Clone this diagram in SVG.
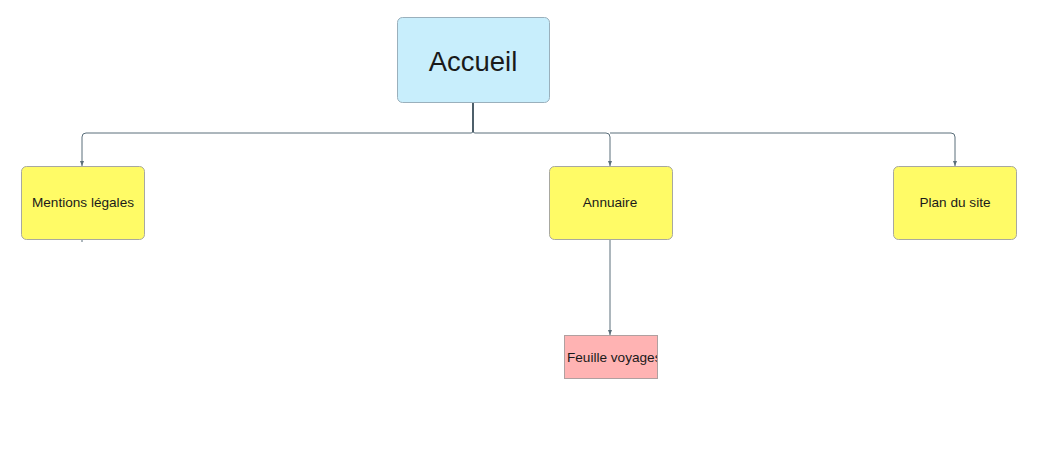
<svg xmlns="http://www.w3.org/2000/svg" width="1041" height="462" viewBox="0 0 1041 462">
<style>
.lbl{font-family:"Liberation Sans",Arial,sans-serif;fill:#1a1a1a;text-anchor:middle;dominant-baseline:central}
.y{fill:#fffb66;stroke:#a8a8a0;stroke-width:1}
.c{fill:none;stroke:#5a6e7a;stroke-width:1}
</style>
<defs>
<marker id="ah" markerWidth="5" markerHeight="5" refX="5" refY="2.5" orient="auto" markerUnits="userSpaceOnUse" viewBox="0 0 5 5">
<path d="M0,0.5 L5,2.5 L0,4.5 Z" fill="#5a6e7a"/>
</marker>
<clipPath id="fclip"><rect x="564" y="335" width="93" height="44"/></clipPath>
</defs>
<rect width="1041" height="462" fill="#ffffff"/>
<g id="connectors">
<path class="c" d="M473,102 V131 Q473,133 471,133 H86 Q82,133 82,137 V166" marker-end="url(#ah)"/>
<path class="c" d="M473,102 V131 Q473,133 475,133 H606 Q610,133 610,137 V166" marker-end="url(#ah)"/>
<path class="c" d="M610,133 H951 Q955,133 955,137 V166" marker-end="url(#ah)"/>
<path d="M473,102 V132" fill="none" stroke="#4d5f6a" stroke-width="2"/>
<path class="c" d="M610,239 V335" marker-end="url(#ah)"/>
<path class="c" d="M82,239 V242"/>
</g>
<g id="accueil">
<rect x="397.5" y="17.5" width="152" height="85" rx="5" fill="#c8eefc" stroke="#9ab0bc"/>
<text class="lbl" x="473" y="61" font-size="27.5">Accueil</text>
</g>
<g id="mentions">
<rect class="y" x="21.5" y="166.5" width="123" height="73" rx="5"/>
<text class="lbl" x="83" y="202" font-size="13.6">Mentions légales</text>
</g>
<g id="annuaire">
<rect class="y" x="549.5" y="166.5" width="123" height="73" rx="5"/>
<text class="lbl" x="610" y="202" font-size="13.6">Annuaire</text>
</g>
<g id="plan">
<rect class="y" x="893.5" y="166.5" width="123" height="73" rx="5"/>
<text class="lbl" x="955" y="202" font-size="13.6">Plan du site</text>
</g>
<g id="feuille">
<rect x="564.5" y="335.5" width="93" height="43" fill="#ffb3b3" stroke="#b0a0a0"/>
<text class="lbl" x="567" y="357" font-size="13.6" style="text-anchor:start" clip-path="url(#fclip)">Feuille voyages</text>
</g>
</svg>
